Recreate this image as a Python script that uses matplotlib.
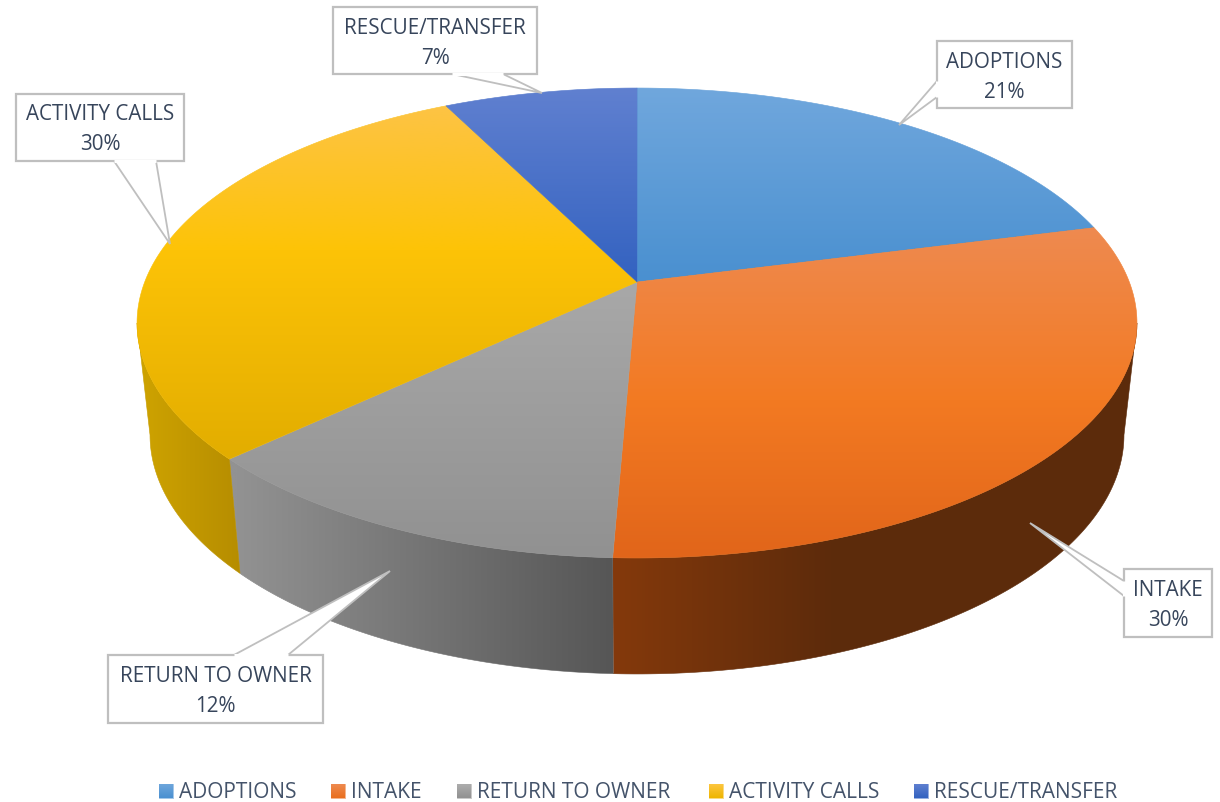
import numpy as np
import matplotlib
matplotlib.use('Agg')
import matplotlib.pyplot as plt
from matplotlib.patches import Polygon
from matplotlib.colors import to_rgb

# data
categories = ['ADOPTIONS', 'INTAKE', 'RETURN TO OWNER', 'ACTIVITY CALLS', 'RESCUE/TRANSFER']
values = [21.0, 29.65, 12.35, 29.6, 7.4]

# colours, (pixel position, colour) pairs along the gradient
top_stops = [
    [(88, '#70a7dd'), (280, '#4a90d0')],
    [(228, '#ee8a50'), (400, '#f37a22'), (558, '#e1651a')],
    [(285, '#a8a8a8'), (558, '#919191')],
    [(105, '#fdc445'), (250, '#fdc307'), (460, '#e2ad00')],
    [(88, '#6080d0'), (282, '#3362c0')],
]
side_stops = [
    [(640, '#2f5597'), (1090, '#2f5597')],
    [(613, '#84390c'), (830, '#5d2b0b'), (1137, '#5c2c0c')],
    [(238, '#929292'), (613, '#565656')],
    [(140, '#cea300'), (240, '#b68d00')],
    [(450, '#203864'), (637, '#203864')],
]
legend_stops = [
    ['#6ea6dc', '#4a90d0'],
    ['#ee8a50', '#e96f1e'],
    ['#adadad', '#919191'],
    ['#fdc640', '#eeb500'],
    ['#5f80d0', '#3362c0'],
]
text_color = '#37455b'
legend_color = '#44536a'
border = '#bfbfbf'

# label boxes: left, top, right, bottom and the pointer outline
boxes = [
    (937, 41, 1072, 108, [(937, 81), (899, 125), (937, 97)]),
    (1124, 569, 1212, 637, [(1124, 581), (1030, 523), (1124, 596)]),
    (108, 655, 323, 723, [(234, 655), (390, 571), (288, 655)]),
    (16, 94, 184, 161, [(114, 161), (170, 244), (156, 161)]),
    (333, 7, 537, 74, [(452, 74), (542, 93), (503, 74)]),
]
legend_x = [159, 331, 457, 709, 914]

# perspective of the pie's top face
cx, cy = 637, 282
persp = 0.1745
k = 492.3
a = -178.6


def project(theta):
    u, v = np.sin(theta), np.cos(theta)
    w = 1 + persp * v
    return cx + k * u / w, (cy + a * v) / w


def lower(x, y):
    return cx + 0.974 * (x - cx), 435 + 1.017 * (y - 323)


def gradient_fill(ax, verts, stops, horizontal=False, zorder=1):
    verts = np.asarray(verts)
    x0, y0 = verts.min(axis=0)
    x1, y1 = verts.max(axis=0)
    lo, hi = (x0, x1) if horizontal else (y0, y1)
    pos = np.linspace(lo, hi, 256)
    sp = [s[0] for s in stops]
    cols = np.array([to_rgb(s[1]) for s in stops])
    grad = np.stack([np.interp(pos, sp, cols[:, i]) for i in range(3)], axis=-1)
    grad = grad[np.newaxis, :, :] if horizontal else grad[:, np.newaxis, :]
    mid = grad.reshape(-1, 3)[128]
    edge = Polygon(verts, closed=True, facecolor='none', edgecolor=mid, lw=0.4, zorder=zorder)
    ax.add_patch(edge)
    patch = Polygon(verts, closed=True, facecolor='none', edgecolor='none', zorder=zorder)
    ax.add_patch(patch)
    im = ax.imshow(grad, extent=(x0, x1, y1, y0), aspect='auto', interpolation='bilinear', zorder=zorder)
    im.set_clip_path(patch)


plt.rcParams['font.family'] = ['Open Sans', 'DejaVu Sans']

fig = plt.figure(figsize=(12.2, 8.02), dpi=100)
ax = fig.add_axes([0, 0, 1, 1])

# slices
cum = np.cumsum([0] + values) / sum(values) * 2 * np.pi

# only the front of the rim shows, between the two points where the top face is widest
front_start = np.arccos(-persp)
front_end = 2 * np.pi - front_start
for i in range(len(values)):
    start = max(cum[i], front_start)
    end = min(cum[i + 1], front_end)
    if end <= start:
        continue
    th = np.linspace(start, end, 200)
    xt, yt = project(th)
    xb, yb = lower(xt, yt)
    side = np.column_stack([np.r_[xt, xb[::-1]], np.r_[yt, yb[::-1]]])
    gradient_fill(ax, side, side_stops[i], horizontal=True, zorder=1)

for i in range(len(values)):
    th = np.linspace(cum[i], cum[i + 1], 200)
    xt, yt = project(th)
    top = np.column_stack([np.r_[cx, xt], np.r_[cy, yt]])
    gradient_fill(ax, top, top_stops[i], zorder=2)

# label boxes with pointers
for i, (x0, y0, x1, y1, ptr) in enumerate(boxes):
    ax.add_patch(Polygon([(x0, y0), (x1, y0), (x1, y1), (x0, y1)], closed=True,
                         facecolor='white', edgecolor=border, lw=1.6, zorder=4))
    ax.add_patch(Polygon(ptr, closed=True, facecolor='white', edgecolor=border, lw=1.3,
                         joinstyle='miter', zorder=4))
    # hide the border where the pointer joins the box
    ax.plot([ptr[0][0], ptr[2][0]], [ptr[0][1], ptr[2][1]], color='white', lw=2.2,
            solid_capstyle='butt', zorder=5)
    mx = (x0 + x1) / 2
    ax.text(mx, y0 + 21, categories[i], ha='center', va='center', fontsize=14.9,
            color=text_color, zorder=6)
    ax.text(mx, y0 + 51, '%d%%' % round(values[i]), ha='center', va='center', fontsize=14.9,
            color=text_color, zorder=6)

# legend
for i, name in enumerate(categories):
    lx = legend_x[i]
    sq = [(lx, 784), (lx + 14, 784), (lx + 14, 798), (lx, 798)]
    gradient_fill(ax, sq, [(784, legend_stops[i][0]), (798, legend_stops[i][1])], zorder=3)
    ax.text(lx + 20, 793, name, ha='left', va='center', fontsize=15, color=legend_color)

ax.set_xlim(0, 1220)
ax.set_ylim(802, 0)
ax.axis('off')
fig.savefig('out.png', dpi=100, facecolor='white')
